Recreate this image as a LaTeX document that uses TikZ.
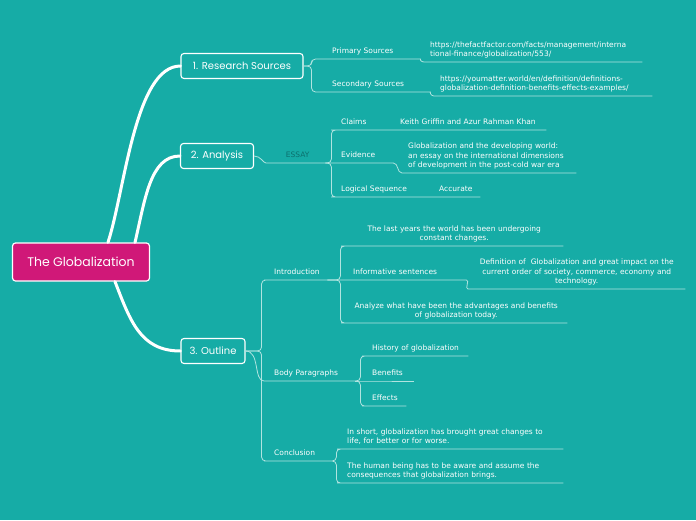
\documentclass[tikz,border=0pt]{standalone}
\usepackage{fontspec}
\setmainfont{DejaVu Sans}
\newfontfamily\headfont{Poppins}
\usetikzlibrary{calc}
\definecolor{sea}{RGB}{22,172,166}
\definecolor{berry}{RGB}{208,24,120}
\definecolor{wire}{RGB}{176,228,224}
\definecolor{deepsea}{RGB}{12,112,110}
\newcommand\leaffont{\fontsize{7.5}{9.6}\selectfont\hyphenpenalty=10000\exhyphenpenalty=10000}

\begin{document}
\begin{tikzpicture}[x=1pt, y=-1pt,
    hub/.style={draw=white, line width=1.2pt, rounded corners=3pt, fill=berry, text=white, font=\headfont\fontsize{12.5}{14}\selectfont, minimum width=137pt, minimum height=38pt},
    topic/.style={draw=white, line width=1.1pt, rounded corners=3pt, fill=sea, text=white, font=\headfont\fontsize{10}{11}\selectfont, minimum height=25pt, inner xsep=4pt},
    leaf/.style={anchor=south west, text width=#1, align=left, inner xsep=6pt, inner ysep=2pt, text=white, font=\leaffont, execute at end node=\strut},
    mid/.style={leaf=#1, align=center},
    limb/.style={white, line width=3pt, line cap=round},
    twig/.style={wire, line width=0.8pt, rounded corners=4pt}
]
\fill[sea] (0,0) rectangle (696,520);
\useasboundingbox (0,0) rectangle (696,520);

\node[hub] (tg) at (81,262) {The Globalization};
\node[topic, minimum width=122pt] (rs) at (242,66) {1. Research Sources};
\node[topic, minimum width=73pt] (an) at (217,156) {2. Analysis};
\node[topic, minimum width=64pt] (ol) at (213,351) {3. Outline};

\node[leaf=78pt] (ps) at (326,59) {Primary Sources};
\node[leaf=206pt] (u1) at (424,62) {https://thefactfactor.com/facts/management/interna\\tional-finance/globalization/553/};
\node[leaf=88pt] (ss) at (326,92) {Secondary Sources};
\node[leaf=206pt] (u2) at (434,96) {https://youmatter.world/en/definition/definitions-\\globalization-definition-benefits-effects-examples/};

\node[mid=43pt, text=deepsea] (es) at (270,163) {ESSAY};
\node[leaf=47pt] (cl) at (335,130) {Claims};
\node[leaf=140pt] (kg) at (394,130) {Keith Griffin and Azur Rahman Khan};
\node[leaf=46pt] (ev) at (335,163) {Evidence};
\node[leaf=162pt] (gd) at (402,173) {Globalization and the developing world:\\an essay on the international dimensions\\of development in the post-cold war era};
\node[leaf=86pt] (ls) at (335,197) {Logical Sequence};
\node[leaf=35pt] (ac) at (433,197) {Accurate};

\node[leaf=47pt] (in) at (268,280) {Introduction};
\node[mid=206pt] (ly) at (345,246) {The last years the world has been undergoing\\constant changes.};
\node[leaf=107pt] (inf) at (347,280) {Informative sentences};
\node[mid=205pt] (df) at (468,289) {Definition of~ Globalization and great impact on the\\current order of society, commerce, economy and\\technology.};
\node[mid=210pt] (aw) at (345,323) {Analyze what have been the advantages and benefits\\of globalization today.};

\node[leaf=75pt] (bp) at (268,381) {Body Paragraphs};
\node[leaf=90pt] (hi) at (366,356) {History of globalization};
\node[leaf=36pt] (be) at (366,381) {Benefits};
\node[leaf=28pt] (ef) at (366,406) {Effects};

\node[leaf=52pt] (co) at (268,461) {Conclusion};
\node[leaf=210pt] (sh) at (341,449) {In short, globalization has brought great changes to\\life, for better or for worse.};
\node[leaf=210pt] (hb) at (341,483) {The human being has to be aware and assume the\\consequences that globalization brings.};

\draw[limb] ($(tg.north)+(27,0)$) .. controls (125,190) and (135,66) .. (rs.west);
\draw[limb] ($(tg.north)+(54,0)$) .. controls (145,200) and (150,156) .. (an.west);
\draw[limb] ($(tg.south)+(34,0)$) .. controls (130,320) and (140,351) .. (ol.west);

\draw[twig] (rs.east) -- ++(8,0) |- (ps.south west) -- (ps.south east) [sharp corners] to[out=0,in=180] (u1.south west) -- (u1.south east);
\draw[twig] (rs.east) -- ++(8,0) |- (ss.south west) -- (ss.south east) [sharp corners] to[out=0,in=180] (u2.south west) -- (u2.south east);

\draw[twig] (an.east) to[out=0,in=180] (es.south west) -- (es.south east);
\draw[twig] (es.south east) -- ++(6,0) |- (cl.south west) -- (cl.south east) -- (kg.south east);
\draw[twig, sharp corners] (es.south east) -- (ev.south west) -- (ev.south east) to[out=0,in=180] (gd.south west) -- (gd.south east);
\draw[twig] (es.south east) -- ++(6,0) |- (ls.south west) -- (ls.south east) -- (ac.south east);

\draw[twig] (ol.east) -- ++(16,0) |- (in.south west) -- (in.south east);
\draw[twig] (in.south east) -- ++(13,0) |- (ly.south west) -- (ly.south east);
\draw[twig, sharp corners] (in.south east) -- (inf.south west) -- (inf.south east) to[out=0,in=180] (df.south west) -- (df.south east);
\draw[twig] (in.south east) -- ++(13,0) |- (aw.south west) -- (aw.south east);

\draw[twig] (ol.east) to[out=0,in=180] (bp.south west) -- (bp.south east);
\draw[twig] (bp.south east) -- ++(5,0) |- (hi.south west) -- (hi.south east);
\draw[twig] (bp.south east) -- (be.south west) -- (be.south east);
\draw[twig] (bp.south east) -- ++(5,0) |- (ef.south west) -- (ef.south east);

\draw[twig] (ol.east) -- ++(16,0) |- (co.south west) -- (co.south east);
\draw[twig] (co.south east) -- ++(4,0) |- (sh.south west) -- (sh.south east);
\draw[twig] (co.south east) -- ++(4,0) |- (hb.south west) -- (hb.south east);
\end{tikzpicture}
\end{document}
